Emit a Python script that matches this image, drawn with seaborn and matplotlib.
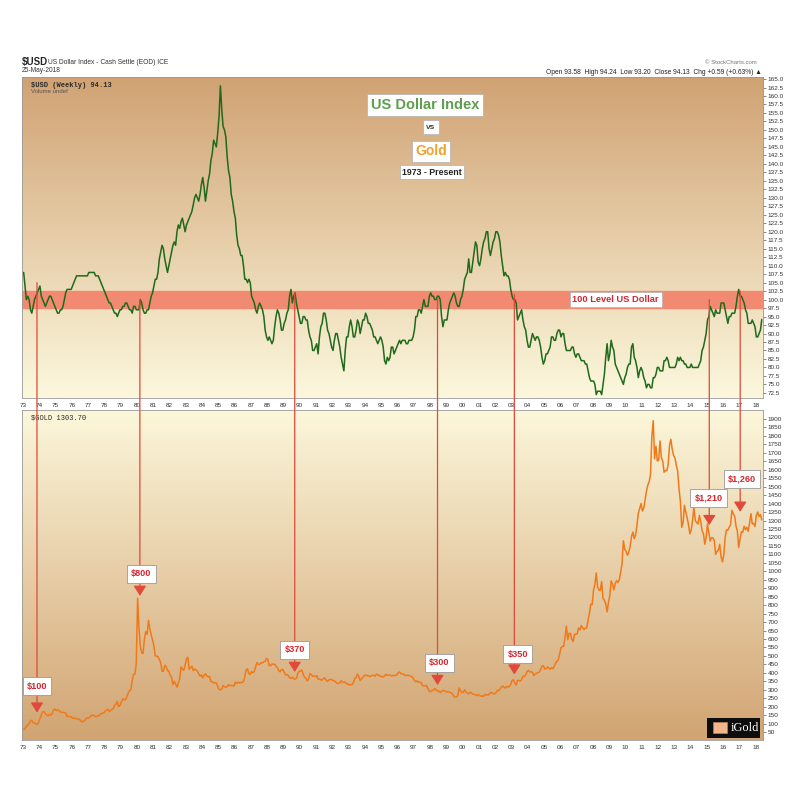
import numpy as np
import pandas as pd
import matplotlib
matplotlib.use("Agg")
import matplotlib.pyplot as plt
import seaborn as sns
from matplotlib.colors import LinearSegmentedColormap
from matplotlib.patches import ConnectionPatch, Rectangle

sns.set_style("white")
plt.rcParams['font.family'] = ['Liberation Sans', 'DejaVu Sans']

# monthly closes, Jan..Dec per row, 1973 -> May 2018
usd_monthly = [
    [108, 104, 100, 101, 100, 97, 96, 98, 100, 101, 102, 103],
    [104, 101, 100, 99, 98, 99, 100, 101, 101, 100, 99, 98],
    [97, 96, 96, 97, 97, 98, 100, 102, 103, 103, 103, 103],
    [104, 105, 106, 107, 107, 107, 107, 107, 107, 107, 107, 107],
    [108, 108, 108, 108, 108, 107, 107, 107, 106, 105, 104, 103],
    [102, 101, 100, 99, 99, 98, 97, 96, 96, 95, 96, 97],
    [97, 98, 98, 99, 99, 98, 97, 97, 96, 98, 98, 97],
    [97, 97, 100, 99, 97, 96, 96, 97, 97, 99, 101, 102],
    [104, 106, 106, 108, 112, 114, 116, 115, 112, 110, 108, 110],
    [112, 114, 116, 117, 116, 120, 122, 121, 123, 124, 122, 120],
    [122, 123, 124, 125, 126, 128, 130, 131, 130, 129, 131, 134],
    [136, 133, 129, 132, 135, 137, 141, 143, 147, 146, 145, 149],
    [154, 163, 156, 151, 150, 148, 142, 138, 136, 131, 129, 126],
    [124, 119, 116, 115, 113, 113, 110, 106, 106, 105, 106, 105],
    [101, 100, 99, 97, 96, 98, 99, 98, 97, 95, 91, 89],
    [88, 89, 88, 87, 88, 92, 95, 97, 96, 94, 91, 91],
    [93, 94, 96, 97, 101, 103, 99, 101, 102, 99, 97, 95],
    [93, 93, 95, 95, 94, 94, 91, 89, 88, 85, 85, 86],
    [87, 84, 89, 92, 93, 96, 96, 94, 91, 90, 88, 86],
    [85, 88, 90, 90, 88, 86, 83, 81, 79, 85, 89, 89],
    [92, 94, 92, 89, 89, 91, 94, 93, 90, 92, 94, 94],
    [96, 95, 93, 93, 92, 91, 89, 89, 88, 87, 88, 89],
    [88, 86, 82, 81, 83, 82, 83, 86, 86, 84, 85, 86],
    [87, 88, 87, 88, 88, 88, 87, 87, 88, 88, 88, 89],
    [91, 95, 95, 97, 97, 96, 98, 100, 98, 98, 98, 101],
    [102, 101, 101, 100, 100, 101, 101, 100, 95, 92, 94, 94],
    [94, 97, 99, 100, 101, 102, 101, 99, 98, 98, 100, 101],
    [103, 106, 107, 108, 112, 108, 108, 111, 114, 117, 116, 111],
    [110, 112, 115, 117, 118, 120, 120, 115, 113, 115, 117, 118],
    [120, 120, 119, 117, 113, 110, 107, 108, 107, 107, 106, 103],
    [101, 100, 100, 99, 94, 95, 96, 97, 94, 92, 91, 88],
    [86, 86, 88, 90, 89, 88, 89, 89, 88, 86, 83, 81],
    [82, 84, 84, 85, 86, 89, 89, 88, 88, 90, 91, 91],
    [89, 90, 90, 87, 85, 85, 85, 85, 86, 86, 84, 83],
    [84, 84, 83, 82, 82, 82, 81, 81, 79, 77, 76, 76],
    [76, 75, 72, 73, 73, 73, 72, 75, 78, 83, 87, 82],
    [84, 88, 86, 85, 81, 80, 79, 78, 77, 76, 75, 77],
    [78, 80, 81, 81, 86, 87, 83, 82, 80, 77, 79, 80],
    [79, 77, 76, 74, 75, 75, 74, 74, 77, 77, 78, 80],
    [80, 79, 79, 79, 82, 82, 83, 82, 80, 80, 80, 80],
    [80, 81, 83, 82, 83, 82, 82, 81, 81, 80, 80, 80],
    [81, 80, 80, 80, 80, 80, 81, 82, 85, 86, 88, 90],
    [94, 95, 98, 97, 96, 95, 97, 96, 96, 96, 99, 99],
    [99, 97, 95, 93, 95, 95, 96, 96, 96, 98, 101, 103],
    [101, 101, 100, 99, 97, 96, 93, 93, 93, 94, 93, 92],
    [89, 89, 90, 91, 94.13],
]

gold_monthly = [
    [65, 70, 85, 90, 100, 115, 120, 106, 103, 100, 95, 106],
    [130, 150, 170, 170, 160, 150, 145, 155, 150, 158, 180, 187],
    [176, 180, 178, 168, 167, 166, 165, 162, 142, 143, 141, 140],
    [132, 131, 133, 128, 126, 126, 117, 110, 114, 117, 130, 135],
    [133, 140, 148, 150, 146, 141, 144, 145, 150, 158, 161, 163],
    [173, 179, 185, 171, 177, 184, 189, 207, 214, 231, 200, 208],
    [227, 246, 242, 239, 257, 279, 295, 300, 355, 392, 392, 455],
    [840, 665, 554, 517, 514, 600, 644, 627, 710, 661, 623, 594],
    [558, 500, 499, 495, 479, 460, 409, 410, 444, 437, 413, 410],
    [384, 374, 330, 350, 334, 315, 338, 364, 435, 422, 415, 444],
    [482, 492, 420, 432, 438, 413, 422, 416, 411, 394, 381, 388],
    [370, 385, 394, 381, 377, 378, 348, 348, 341, 340, 341, 320],
    [303, 299, 304, 325, 316, 317, 317, 330, 324, 325, 325, 322],
    [345, 338, 345, 340, 342, 343, 348, 376, 418, 423, 395, 391],
    [408, 401, 408, 438, 460, 449, 450, 460, 460, 465, 467, 486],
    [477, 442, 443, 452, 451, 451, 437, 431, 413, 406, 420, 419],
    [404, 387, 390, 384, 371, 367, 375, 365, 362, 367, 394, 409],
    [410, 417, 393, 374, 369, 352, 362, 395, 389, 380, 381, 378],
    [383, 363, 363, 358, 357, 367, 368, 356, 349, 359, 360, 361],
    [354, 354, 345, 338, 337, 341, 353, 343, 345, 344, 335, 334],
    [329, 330, 330, 342, 367, 371, 392, 378, 355, 364, 374, 383],
    [387, 382, 384, 377, 381, 385, 385, 380, 391, 389, 384, 379],
    [378, 376, 382, 391, 385, 387, 386, 383, 383, 383, 386, 387],
    [400, 405, 396, 393, 392, 385, 383, 387, 383, 381, 378, 369],
    [355, 347, 352, 344, 344, 341, 324, 324, 323, 325, 306, 289],
    [289, 297, 296, 308, 299, 292, 293, 284, 289, 296, 294, 291],
    [287, 287, 286, 282, 276, 261, 256, 257, 265, 311, 293, 283],
    [285, 300, 286, 280, 275, 286, 282, 274, 273, 270, 266, 272],
    [265, 262, 263, 261, 272, 270, 268, 273, 283, 283, 276, 276],
    [282, 296, 294, 303, 314, 322, 314, 310, 319, 317, 319, 333],
    [356, 359, 340, 328, 355, 356, 351, 360, 379, 379, 389, 407],
    [414, 405, 406, 403, 384, 392, 398, 400, 405, 420, 439, 442],
    [424, 423, 434, 428, 421, 430, 424, 437, 456, 469, 476, 510],
    [549, 555, 557, 610, 676, 596, 633, 632, 598, 585, 627, 629],
    [631, 665, 654, 679, 666, 655, 665, 665, 712, 754, 806, 803],
    [889, 922, 990, 909, 888, 889, 939, 839, 829, 806, 760, 816],
    [858, 943, 924, 890, 928, 945, 934, 949, 996, 1043, 1180, 1130],
    [1118, 1095, 1113, 1148, 1205, 1232, 1193, 1215, 1271, 1343, 1370, 1400],
    [1356, 1372, 1424, 1473, 1510, 1528, 1572, 1800, 1890, 1665, 1739, 1652],
    [1656, 1770, 1673, 1650, 1585, 1596, 1594, 1630, 1744, 1780, 1721, 1684],
    [1670, 1627, 1593, 1487, 1414, 1260, 1286, 1390, 1349, 1316, 1275, 1221],
    [1244, 1300, 1380, 1299, 1288, 1279, 1330, 1296, 1239, 1222, 1160, 1200],
    [1280, 1227, 1178, 1198, 1198, 1181, 1100, 1117, 1125, 1159, 1086, 1055],
    [1097, 1199, 1245, 1242, 1260, 1276, 1360, 1341, 1326, 1267, 1238, 1140],
    [1192, 1234, 1231, 1266, 1246, 1260, 1236, 1283, 1340, 1280, 1283, 1265],
    [1331, 1350, 1324, 1335, 1303.7],
]

first_year = 1973

# red call-outs: year of the line, where it leaves the $USD panel, where it hits gold
call_labels = ['$100', '$800', '$370', '$300', '$350', '$1,210', '$1,260']
call_years = [1973.86, 1980.18, 1989.69, 1998.46, 2003.18, 2015.15, 2017.05]
call_usd = [105, 100, 102, 100.5, 101.5, 100, 102.5]
call_gold = [165, 855, 405, 328, 390, 1273, 1352]
label_gold = [322, 984, 535, 458, 511, 1433, 1545]
label_year_shift = [0, 0.1, 0.0, 0.1, 0.2, -0.05, 0.1]


def flatten(rows):
    dates, vals = [], []
    for i, row in enumerate(rows):
        for m, v in enumerate(row):
            dates.append(first_year + i + (m + 0.5) / 12)
            vals.append(v)
    return dates, vals


usd_dates, usd_vals = flatten(usd_monthly)
gold_dates, gold_vals = flatten(gold_monthly)
df_usd = pd.DataFrame({'date': usd_dates, 'usd': usd_vals})
df_gold = pd.DataFrame({'date': gold_dates, 'gold': gold_vals})

W = 805.0
fig = plt.figure(figsize=(8.05, 8.05), dpi=100)
fig.patch.set_facecolor('white')
ax1 = fig.add_axes([22 / W, 1 - 398 / W, 741 / W, 321 / W])
ax2 = fig.add_axes([22 / W, 1 - 740 / W, 741 / W, 330 / W])

xmin, xmax = 1972.94, 2018.45


def gradient(ax, top, bottom):
    cmap = LinearSegmentedColormap.from_list('bg', [top, bottom])
    ax.imshow(np.linspace(0, 1, 256)[:, None], cmap=cmap, aspect='auto',
              extent=[0, 1, 0, 1], transform=ax.transAxes, zorder=0)


gradient(ax1, '#D0A273', '#FCF8DD')
gradient(ax2, '#FCF7DB', '#D1A472')

ax1.axhspan(97.5, 102.5, color='#F28A72', zorder=1)
sns.lineplot(data=df_usd, x='date', y='usd', ax=ax1, color='#1F6A1B',
             lw=1.1, estimator=None, sort=False, zorder=3)
sns.lineplot(data=df_gold, x='date', y='gold', ax=ax2, color='#F07A1A',
             lw=1.1, estimator=None, sort=False, zorder=3)

ax1.set_xlim(xmin, xmax)
ax1.set_ylim(71.0, 165.6)
ax2.set_xlim(xmin, xmax)
ax2.set_ylim(3, 1953)

years = np.arange(1973, 2019)
for ax in (ax1, ax2):
    ax.set_xlabel('')
    ax.set_ylabel('')
    ax.set_xticks(years)
    ax.set_xticklabels(['%02d' % (y % 100) for y in years])
    ax.yaxis.tick_right()
    ax.tick_params(axis='both', labelsize=4.6, colors='#333333', length=2,
                   width=0.4, pad=1.5)
    for s in ax.spines.values():
        s.set_color('#9a9a9a')
        s.set_linewidth(0.6)

usd_ticks = np.arange(72.5, 165.1, 2.5)
ax1.set_yticks(usd_ticks)
ax1.set_yticklabels(['%.1f' % t for t in usd_ticks])
gold_ticks = np.arange(50, 1901, 50)
ax2.set_yticks(gold_ticks)
ax2.set_yticklabels(['%d' % t for t in gold_ticks])

# call-out lines (figure level so they cross both panels) and labels above them
for lab, yr, u, g, lg, dx in zip(call_labels, call_years, call_usd, call_gold,
                                 label_gold, label_year_shift):
    con = ConnectionPatch(xyA=(yr, u), coordsA=ax1.transData,
                          xyB=(yr, g), coordsB=ax2.transData,
                          arrowstyle='-|>,head_length=0.55,head_width=0.35',
                          mutation_scale=11, color='#E04A3A', lw=0.9, zorder=6)
    fig.add_artist(con)
    fig.text(yr + dx, lg, lab.replace('$', r'\$'), transform=ax2.transData,
             ha='center', va='center', fontsize=6.6, fontweight='bold',
             color='#D7262F', zorder=8,
             bbox=dict(boxstyle='square,pad=0.45', fc='white', ec='#9a9a9a', lw=0.6))

# title boxes
box = dict(boxstyle='square,pad=0.25', fc='white', ec='#b0b0b0', lw=0.5)
ax1.text(0.544, 0.913, 'US Dollar Index', transform=ax1.transAxes, ha='center',
         va='center', fontsize=10.5, fontweight='bold', color='#5E9F4E', bbox=box, zorder=7)
ax1.text(0.552, 0.844, 'vs', transform=ax1.transAxes, ha='center', va='center',
         fontsize=6, fontweight='bold', color='#444444', zorder=7,
         bbox=dict(boxstyle='square,pad=0.45', fc='white', ec='#b0b0b0', lw=0.5))
ax1.text(0.552, 0.769, 'Gold', transform=ax1.transAxes, ha='center', va='center',
         fontsize=10, fontweight='bold', color='#F0A22E', bbox=box, zorder=7)
ax1.text(0.553, 0.704, '1973 - Present', transform=ax1.transAxes, ha='center',
         va='center', fontsize=6.3, fontweight='bold', color='#222222', bbox=box, zorder=7)
ax1.text(2009.4, 100, '100 Level US Dollar', ha='center', va='center',
         fontsize=6.7, fontweight='bold', color='#D7262F', zorder=7,
         bbox=dict(boxstyle='square,pad=0.3', fc='white', ec='#b0b0b0', lw=0.5))

# panel captions
ax1.text(0.012, 0.985, r'\$USD (Weekly) 94.13', transform=ax1.transAxes,
         ha='left', va='top', fontsize=5, fontweight='bold', color='#2a2a2a',
         family='Liberation Mono', zorder=7)
ax1.text(0.012, 0.963, 'Volume undef', transform=ax1.transAxes, ha='left',
         va='top', fontsize=4.3, color='#555555', zorder=7)
ax2.text(0.012, 0.985, r'\$GOLD 1303.70', transform=ax2.transAxes, ha='left',
         va='top', fontsize=5, color='#2a2a2a', family='Liberation Mono', zorder=7)

# header
fig.text(22 / W, 1 - 62 / W, r'\$USD', fontsize=7, fontweight='bold', va='center')
fig.text(48 / W, 1 - 62 / W, 'US Dollar Index - Cash Settle (EOD) ICE',
         fontsize=4.8, va='center', color='#333333')
fig.text(22 / W, 1 - 71 / W, '25-May-2018', fontsize=4.8, va='center', color='#333333')
fig.text(757 / W, 1 - 63 / W, '© StockCharts.com', fontsize=4.3, ha='right',
         va='center', color='#777777')
fig.text(762 / W, 1 - 72 / W,
         'Open 93.58  High 94.24  Low 93.20  Close 94.13  Chg +0.59 (+0.63%) ▲',
         fontsize=4.8, ha='right', va='center', color='#222222')

# iGold badge
ax2.add_patch(Rectangle((0.924, 0.006), 0.072, 0.061, transform=ax2.transAxes,
                        fc='#0d0d0d', ec='none', zorder=8))
ax2.add_patch(Rectangle((0.932, 0.021), 0.019, 0.033, transform=ax2.transAxes,
                        fc='#F2B68E', ec='#c98a60', lw=0.4, zorder=9))
ax2.text(0.975, 0.036, 'iGold', transform=ax2.transAxes, ha='center', va='center',
         fontsize=9, color='white', family='Liberation Serif', zorder=9)

plt.savefig('out.png', dpi=100)
